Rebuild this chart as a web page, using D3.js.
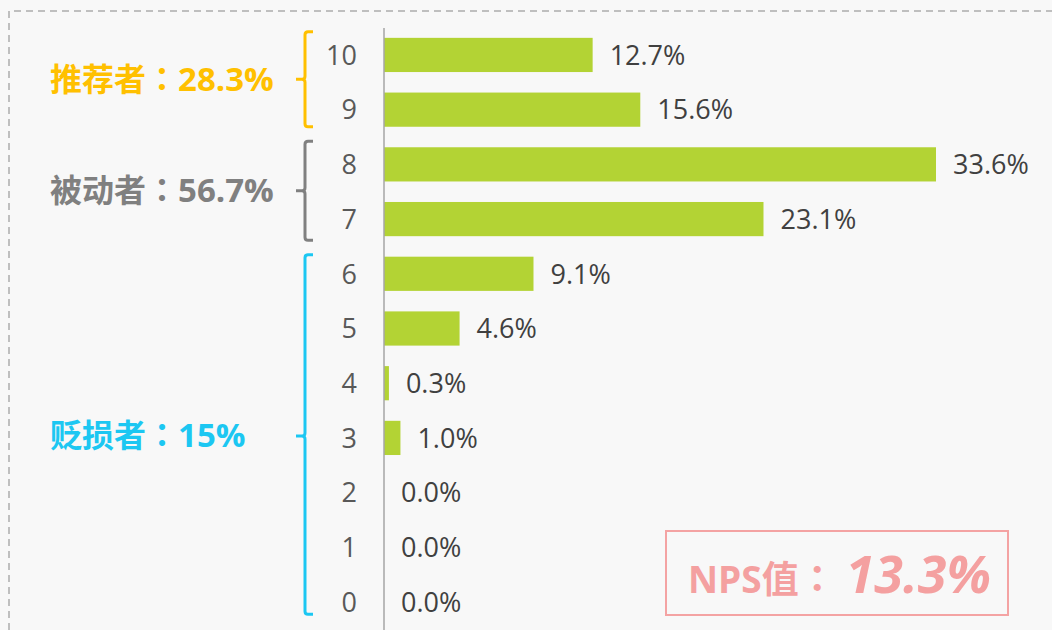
<!DOCTYPE html>
<html>
<head>
<meta charset="utf-8">
<script src="https://cdn.jsdelivr.net/npm/d3@7"></script>
<style>
  body { margin: 0; background: #fff; }
  svg { display: block; }
</style>
</head>
<body>
<div id="chart"></div>
<script>
"use strict"

// scores and share of respondents (%)
var scores = ['10', '9', '8', '7', '6', '5', '4', '3', '2', '1', '0'];
var shares = [12.7, 15.6, 33.6, 23.1, 9.1, 4.6, 0.3, 1.0, 0.0, 0.0, 0.0];

// groups shown with brackets on the left
var groupTitles = ['推荐者', '被动者', '贬损者'];
var groupValues = ['28.3%', '56.7%', '15%'];
var groupFirst = ['10', '8', '6'];
var groupLast = ['9', '7', '0'];
var groupColors = ['#FFC000', '#808080', '#1CC7F2'];

var npsLabel = 'NPS值';
var npsValue = '13.3%';

var W = 1052, H = 630;
var font = '"Open Sans", "Noto Sans CJK SC", sans-serif';
var colonFont = '"Noto Sans CJK TC", sans-serif';

var svg = d3.select("#chart").append("svg")
    .attr("width", W)
    .attr("height", H);

svg.append("rect")
    .attr("width", W).attr("height", H)
    .attr("fill", "#f8f8f8");

// dashed frame (top + left)
svg.append("path")
    .attr("d", "M9," + H + "V11H" + W)
    .attr("fill", "none")
    .attr("stroke", "#bfbfbf")
    .attr("stroke-width", 2)
    .attr("stroke-dasharray", "7,5");

var x = d3.scaleLinear()
    .domain([0, 33.6])
    .range([384, 936]);

var y = d3.scaleBand()
    .domain(scores)
    .range([28, 629])
    .paddingInner(0.375)
    .paddingOuter(0.18);

// bars
svg.append("g")
    .selectAll("rect")
    .data(scores)
    .enter()
    .append("rect")
    .attr("x", x(0))
    .attr("y", function(d) { return y(d); })
    .attr("width", function(d, i) { return x(shares[i]) - x(0); })
    .attr("height", y.bandwidth())
    .attr("fill", "#B3D334");

// value labels
svg.append("g")
    .selectAll("text")
    .data(scores)
    .enter()
    .append("text")
    .attr("x", function(d, i) { return x(shares[i]) + 17; })
    .attr("y", function(d) { return y(d) + y.bandwidth() / 2; })
    .attr("dy", "0.36em")
    .style("font", "27px " + font)
    .attr("fill", "#404040")
    .text(function(d, i) { return shares[i].toFixed(1) + "%"; });

// category axis
var axis = svg.append("g")
    .attr("transform", "translate(" + x(0) + ",0)")
    .call(d3.axisLeft(y).tickSize(0).tickPadding(27));
axis.select(".domain")
    .attr("d", "M0,28V" + H)
    .attr("stroke", "#a6a6a6")
    .attr("stroke-width", 1.5);
axis.selectAll("text")
    .style("font", "27px " + font)
    .attr("dy", "0.36em")
    .attr("fill", "#595959");

// brackets with group labels
var topPad = [6, 6, 2];
var botPad = [0, 4, -5];
groupTitles.forEach(function(title, i) {
    var y0 = y(groupFirst[i]) - topPad[i];
    var y1 = y(groupLast[i]) + y.bandwidth() + botPad[i];
    var ym = (y0 + y1) / 2;
    if (i == 2) ym = y('3') + y.bandwidth() / 2 - 2;
    var bx = 305;
    svg.append("path")
        .attr("d", "M" + (bx + 8) + "," + y0 + "H" + (bx + 3) + "Q" + bx + "," + y0 + " " + bx + "," + (y0 + 3) +
            "V" + (ym - 3) + "Q" + bx + "," + ym + " " + (bx - 3) + "," + ym + "H" + (bx - 9) +
            "M" + (bx - 3) + "," + ym + "Q" + bx + "," + ym + " " + bx + "," + (ym + 3) +
            "V" + (y1 - 3) + "Q" + bx + "," + y1 + " " + (bx + 3) + "," + y1 + "H" + (bx + 8))
        .attr("fill", "none")
        .attr("stroke", groupColors[i])
        .attr("stroke-width", 3);
    var t = svg.append("text")
        .attr("x", 50)
        .attr("y", ym)
        .attr("dy", "0.36em")
        .style("font", "bold 32px " + font)
        .attr("fill", groupColors[i]);
    t.append("tspan").text(title);
    t.append("tspan").style("font-family", colonFont).text("：");
    t.append("tspan").style("font-size", "33px").text(groupValues[i]);
});

// NPS box
svg.append("rect")
    .attr("x", 666).attr("y", 531)
    .attr("width", 342).attr("height", 84)
    .attr("fill", "none")
    .attr("stroke", "#F4A3A3")
    .attr("stroke-width", 2);
var nps = svg.append("text")
    .attr("x", 688)
    .attr("y", 593)
    .attr("fill", "#F4A0A0")
    .style("font-family", font)
    .style("font-weight", "bold");
nps.append("tspan").style("font-size", "37px").text(npsLabel);
nps.append("tspan").style("font-size", "37px").style("font-family", colonFont).text("：");
nps.append("tspan").attr("dx", 10).style("font-size", "52px").style("font-style", "italic").text(npsValue);
</script>
</body>
</html>
